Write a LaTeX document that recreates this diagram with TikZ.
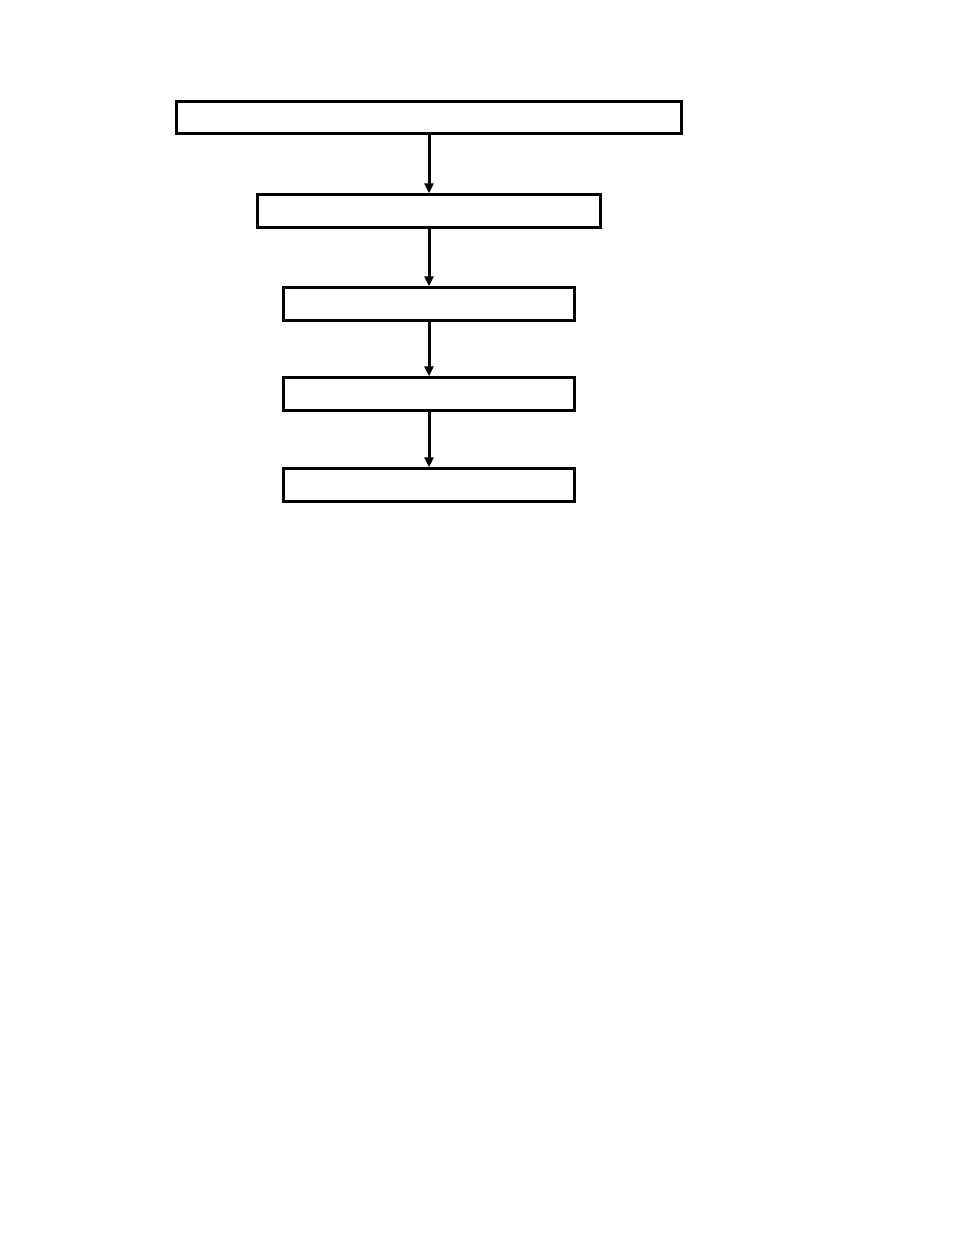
\documentclass[tikz,border=0pt]{standalone}
\usepackage{amssymb}
\usepackage{amsmath}
\usetikzlibrary{arrows.meta}

\begin{document}
\begin{tikzpicture} [x=1pt, y=-1pt, box/.style={draw, line width=3pt, inner sep=0pt, minimum height=32.5pt}, flow/.style={-{Triangle[length=10pt,width=9pt]}, line width=3pt}]

\useasboundingbox (0,0) rectangle (954,1235);

\node [box, minimum width=505pt] (top) at (429, 117.5) {};
\node [box, minimum width=343pt] (second) at (429, 211) {};
\node [box, minimum width=291pt] (third) at (429, 304) {};
\node [box, minimum width=291pt] (fourth) at (429, 394) {};
\node [box, minimum width=291pt] (fifth) at (429, 485) {};

\draw [flow] (top) -- (second);
\draw [flow] (second) -- (third);
\draw [flow] (third) -- (fourth);
\draw [flow] (fourth) -- (fifth);

\end{tikzpicture}
\end{document}
